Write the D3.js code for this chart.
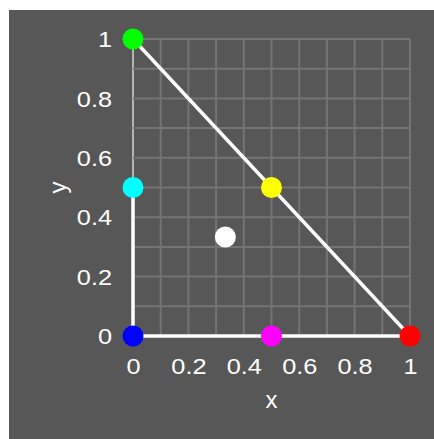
<!DOCTYPE html>
<html>
<head>
<meta charset="utf-8">
<script src="https://cdn.jsdelivr.net/npm/d3@7"></script>
<style>
body { margin: 0; background: #fff; }
text { font-family: "Liberation Sans", Arial, sans-serif; fill: #fff; }
</style>
</head>
<body>
<script>
// corner / midpoint samples of the simplex
const pointX = [0, 0, 0, 0.5, 1, 0.5, 1 / 3];
const pointY = [1, 0.5, 0, 0, 0, 0.5, 1 / 3];
const pointColor = ['#00ff00', '#00ffff', '#0000ff', '#ff00ff', '#ff0000', '#ffff00', '#ffffff'];

// white outline path
const edgeX = [0, 0, 1, 0];
const edgeY = [0.5, 0, 0, 1];

const tickVals = [0, 0.2, 0.4, 0.6, 0.8, 1];
const gridVals = d3.range(0, 11).map(d => d / 10);

const W = 434, H = 439;

const svg = d3.select('body').append('svg')
	.attr('width', W)
	.attr('height', H);

svg.append('rect')
	.attr('x', 9).attr('y', 10)
	.attr('width', W - 9).attr('height', H - 10)
	.attr('fill', '#575757');

const x = d3.scaleLinear().domain([0, 1]).range([133, 410]);
const y = d3.scaleLinear().domain([0, 1]).range([336, 39]);

// grid
const grid = svg.append('g');
grid.selectAll('line.v').data(gridVals).join('line')
	.attr('class', 'v')
	.attr('x1', d => x(d)).attr('x2', d => x(d))
	.attr('y1', y(0)).attr('y2', y(1))
	.attr('stroke', d => d === 0 ? '#b4b4b4' : '#747474')
	.attr('stroke-width', 2);
grid.selectAll('line.h').data(gridVals).join('line')
	.attr('class', 'h')
	.attr('x1', x(0)).attr('x2', x(1))
	.attr('y1', d => y(d)).attr('y2', d => y(d))
	.attr('stroke', '#747474')
	.attr('stroke-width', 2);

// axes (labels only), glyphs are drawn a bit wide in the original
const xAxis = svg.append('g')
	.attr('transform', `translate(0,${y(0) + 22})`)
	.call(d3.axisBottom(x).tickValues(tickVals).tickFormat(d3.format('~g')).tickSize(0));
const yAxis = svg.append('g')
	.attr('transform', `translate(${x(0) - 21},0)`)
	.call(d3.axisLeft(y).tickValues(tickVals).tickFormat(d3.format('~g')).tickSize(0));
[xAxis, yAxis].forEach(a => {
	a.attr('font-size', null);
	a.select('.domain').remove();
	a.selectAll('text')
		.attr('fill', '#fff')
		.attr('font-family', null)
		.attr('x', 0)
		.attr('transform', 'scale(1.15,1)')
		.attr('font-size', 22);
});
xAxis.selectAll('text').attr('y', 0).attr('dy', '0.71em');
yAxis.selectAll('text').attr('dy', '0.35em');

// outline
const line = d3.line().x(d => x(d[0])).y(d => y(d[1]));
svg.append('path')
	.attr('d', line(d3.zip(edgeX, edgeY)))
	.attr('fill', 'none')
	.attr('stroke', '#fff')
	.attr('stroke-width', 3.5);

// points
svg.append('g').selectAll('circle').data(d3.zip(pointX, pointY, pointColor)).join('circle')
	.attr('cx', d => x(d[0]))
	.attr('cy', d => y(d[1]))
	.attr('r', 10.5)
	.attr('fill', d => d[2]);

// axis titles
svg.append('text')
	.attr('x', (x(0) + x(1)) / 2).attr('y', 408)
	.attr('text-anchor', 'middle')
	.attr('font-size', 24)
	.text('x');
svg.append('text')
	.attr('transform', `translate(66,${(y(0) + y(1)) / 2}) rotate(-90)`)
	.attr('text-anchor', 'middle')
	.attr('font-size', 24)
	.text('y');
</script>
</body>
</html>
